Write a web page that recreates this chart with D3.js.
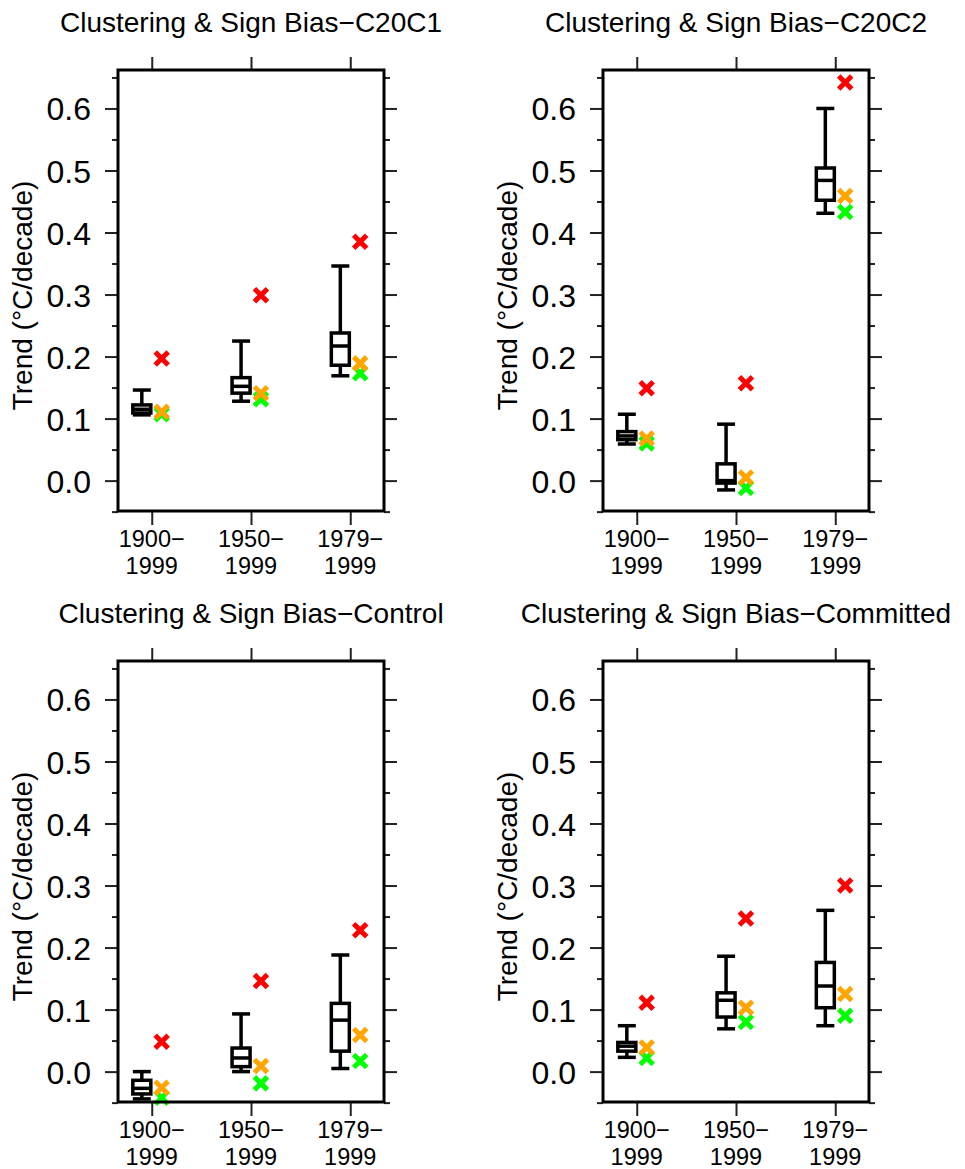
<!DOCTYPE html>
<html>
<head>
<meta charset="utf-8">
<script src="https://cdn.jsdelivr.net/npm/d3@7"></script>
<style>
body { margin: 0; background: #fff; }
text { font-family: "Liberation Sans", Arial, Helvetica, sans-serif; fill: #000; }
</style>
</head>
<body>
<div id="chart"></div>
<script>
var width = 965,
    height = 1169;

var panelTitles = [
    "Clustering & Sign Bias\u2212C20C1",
    "Clustering & Sign Bias\u2212C20C2",
    "Clustering & Sign Bias\u2212Control",
    "Clustering & Sign Bias\u2212Committed"
];
var periods = [1, 2, 3];
var periodLabels = [["1900\u2212", "1999"], ["1950\u2212", "1999"], ["1979\u2212", "1999"]];
var yMajor = [0.0, 0.1, 0.2, 0.3, 0.4, 0.5, 0.6];
var yMinor = [-0.05, 0.05, 0.15, 0.25, 0.35, 0.45, 0.55, 0.65];

// ensemble boxes: [low whisker, q1, median, q3, high whisker] per period
var boxC20C1 = [[0.106, 0.109, 0.115, 0.122, 0.146], [0.128, 0.141, 0.152, 0.166, 0.225], [0.169, 0.186, 0.217, 0.238, 0.346]];
var boxC20C2 = [[0.059, 0.066, 0.072, 0.079, 0.107], [-0.015, -0.004, 0.0, 0.027, 0.091], [0.431, 0.452, 0.484, 0.504, 0.600]];
var boxControl = [[-0.044, -0.036, -0.027, -0.014, 0.0], [0.0, 0.008, 0.022, 0.038, 0.093], [0.005, 0.033, 0.083, 0.110, 0.188]];
var boxCommitted = [[0.023, 0.033, 0.041, 0.047, 0.074], [0.069, 0.088, 0.115, 0.127, 0.186], [0.074, 0.103, 0.138, 0.176, 0.260]];
var boxes = [boxC20C1, boxC20C2, boxControl, boxCommitted];

// single-estimate trends per panel and period
var redTrend = [[0.197, 0.299, 0.385], [0.149, 0.157, 0.642], [0.048, 0.146, 0.228], [0.111, 0.247, 0.300]];
var orangeTrend = [[0.111, 0.141, 0.189], [0.068, 0.005, 0.459], [-0.026, 0.009, 0.059], [0.039, 0.103, 0.125]];
var greenTrend = [[0.107, 0.131, 0.173], [0.060, -0.012, 0.433], [-0.042, -0.019, 0.017], [0.022, 0.080, 0.090]];

var panelW = 266,
    panelH = 441;
var panelLeft = [118, 603],
    panelTop = [70, 661];

var x = d3.scaleLinear()
    .domain([0.66, 3.34])
    .range([0, panelW]);

var y = d3.scaleLinear()
    .domain([-0.049, 0.662])
    .range([panelH, 0]);

var svg = d3.select("#chart").append("svg")
    .attr("width", width)
    .attr("height", height);

function cross(g, cx, cy, color) {
    var s = 6.5;
    g.append("path")
        .attr("d", "M" + (cx - s) + "," + (cy - s) + "L" + (cx + s) + "," + (cy + s) +
                   "M" + (cx - s) + "," + (cy + s) + "L" + (cx + s) + "," + (cy - s))
        .attr("stroke", color)
        .attr("stroke-width", 5)
        .attr("fill", "none");
}

function styleTicks(sel) {
    sel.select(".domain").remove();
    sel.selectAll(".tick line").attr("stroke", "#222").attr("stroke-width", 2);
}

panelTitles.forEach(function(title, i) {
    var g = svg.append("g")
        .attr("transform", "translate(" + panelLeft[i % 2] + "," + panelTop[Math.floor(i / 2)] + ")");

    g.append("text")
        .attr("x", panelW / 2)
        .attr("y", -38)
        .attr("text-anchor", "middle")
        .style("font-size", "28px")
        .text(title);

    // ticks on all four sides
    g.append("g").call(d3.axisLeft(y).tickValues(yMajor).tickSize(13).tickPadding(14).tickFormat(d3.format(".1f")))
        .call(styleTicks)
        .selectAll("text").style("font-size", "32px").attr("dy", "0.36em");
    g.append("g").call(d3.axisLeft(y).tickValues(yMinor).tickSize(6).tickFormat(""))
        .call(styleTicks);
    g.append("g").attr("transform", "translate(" + panelW + ",0)")
        .call(d3.axisRight(y).tickValues(yMajor).tickSize(13).tickFormat(""))
        .call(styleTicks);
    g.append("g").attr("transform", "translate(" + panelW + ",0)")
        .call(d3.axisRight(y).tickValues(yMinor).tickSize(6).tickFormat(""))
        .call(styleTicks);
    g.append("g").call(d3.axisTop(x).tickValues(periods).tickSize(13).tickFormat(""))
        .call(styleTicks);
    var xb = g.append("g").attr("transform", "translate(0," + panelH + ")")
        .call(d3.axisBottom(x).tickValues(periods).tickSize(14).tickFormat(""))
        .call(styleTicks);

    // two-line period labels
    periods.forEach(function(p, j) {
        periodLabels[j].forEach(function(line, k) {
            xb.append("text")
                .attr("x", x(p))
                .attr("y", 36 + k * 27)
                .attr("text-anchor", "middle")
                .style("font-size", "23.5px")
                .text(line);
        });
    });

    g.append("text")
        .attr("transform", "translate(-96," + (panelH / 2 + 5) + ") rotate(-90)")
        .attr("text-anchor", "middle")
        .attr("dy", "0.35em")
        .style("font-size", "28px")
        .text("Trend (\u00B0C/decade)");

    // box and whiskers, shifted left of each period tick
    var bw = 18;
    boxes[i].forEach(function(b, j) {
        var cx = x(periods[j] - 0.1);
        var bg = g.append("g")
            .attr("stroke", "#000")
            .attr("stroke-width", 3.5)
            .attr("fill", "none");
        bg.append("line").attr("x1", cx).attr("x2", cx).attr("y1", y(b[0])).attr("y2", y(b[1]));
        bg.append("line").attr("x1", cx).attr("x2", cx).attr("y1", y(b[3])).attr("y2", y(b[4]));
        bg.append("line").attr("x1", cx - bw / 2).attr("x2", cx + bw / 2).attr("y1", y(b[0])).attr("y2", y(b[0]));
        bg.append("line").attr("x1", cx - bw / 2).attr("x2", cx + bw / 2).attr("y1", y(b[4])).attr("y2", y(b[4]));
        bg.append("rect")
            .attr("x", cx - bw / 2)
            .attr("y", y(b[3]))
            .attr("width", bw)
            .attr("height", y(b[1]) - y(b[3]))
            .attr("fill", "#fff");
        bg.append("line").attr("x1", cx - bw / 2).attr("x2", cx + bw / 2).attr("y1", y(b[2])).attr("y2", y(b[2]));
    });

    // single estimates, shifted right of each period tick
    periods.forEach(function(p, j) {
        var cx = x(p + 0.1);
        cross(g, cx, y(greenTrend[i][j]), "#00ff00");
        cross(g, cx, y(orangeTrend[i][j]), "#ffa500");
        cross(g, cx, y(redTrend[i][j]), "#ff0000");
    });

    g.append("rect")
        .attr("width", panelW)
        .attr("height", panelH)
        .attr("fill", "none")
        .attr("stroke", "#000")
        .attr("stroke-width", 3);
});
</script>
</body>
</html>
